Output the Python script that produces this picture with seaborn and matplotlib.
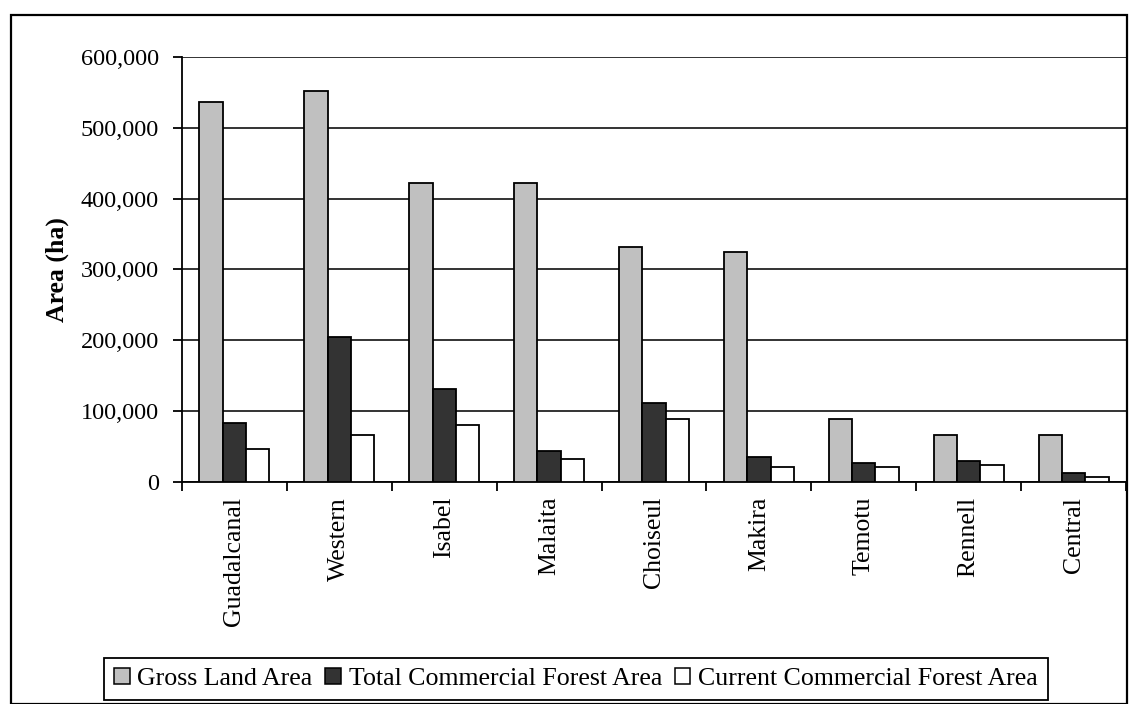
import numpy as np
import pandas as pd
import seaborn as sns
import matplotlib
matplotlib.use("Agg")
import matplotlib.pyplot as plt
from matplotlib.patches import Rectangle, Patch
from matplotlib.ticker import FuncFormatter, FixedLocator

# Province land and forest areas (hectares)
provinces = ["Guadalcanal", "Western", "Isabel", "Malaita", "Choiseul",
             "Makira", "Temotu", "Rennell", "Central"]
gross_land_area = [537000, 552000, 422000, 422000, 331000, 324000, 88500, 66000, 65500]
total_commercial_forest = [83000, 204000, 130500, 43500, 111000, 35000, 26500, 29500, 12000]
current_commercial_forest = [46500, 66000, 80500, 32000, 88500, 21000, 21000, 23500, 5800]

series_names = ["Gross Land Area", "Total Commercial Forest Area",
                "Current Commercial Forest Area"]
series_colors = ["#C0C0C0", "#333333", "#FFFFFF"]

df = pd.DataFrame({
    "Province": provinces * 3,
    "Series": np.repeat(series_names, len(provinces)),
    "Area": gross_land_area + total_commercial_forest + current_commercial_forest,
})

sns.set_theme(style="white")
plt.rcParams["font.family"] = ["Liberation Serif", "DejaVu Serif"]
plt.rcParams["text.color"] = "black"
plt.rcParams["axes.labelcolor"] = "black"
plt.rcParams["xtick.color"] = "black"
plt.rcParams["ytick.color"] = "black"

W, H = 1134, 704
fig = plt.figure(figsize=(W / 100, H / 100), dpi=100)
ax = fig.add_axes([182 / W, 1 - 481.5 / H, (1126 - 182) / W, (481.5 - 57.3) / H])

sns.barplot(data=df, x="Province", y="Area", hue="Series", order=provinces,
            hue_order=series_names, palette=dict(zip(series_names, series_colors)),
            width=2 / 3, saturation=1, edgecolor="black", linewidth=1.3,
            errorbar=None, legend=False, ax=ax, zorder=3)

ax.set_ylim(0, 600000)
ax.set_xlim(-0.5, len(provinces) - 0.5)
ax.set_yticks(np.arange(0, 600001, 100000))
ax.yaxis.set_major_formatter(FuncFormatter(lambda v, p: f"{int(v):,}"))
ax.yaxis.grid(True, color="#111111", linewidth=1.2, zorder=0)
ax.set_axisbelow(True)

# category labels at centres, tick marks at category boundaries
ax.xaxis.set_major_locator(FixedLocator(np.arange(-0.5, len(provinces), 1.0)))
ax.xaxis.set_minor_locator(FixedLocator(np.arange(len(provinces))))
ax.set_xticklabels([], minor=False)
ax.set_xticklabels(provinces, minor=True, rotation=90, fontsize=18.5, va="top", ha="center")
ax.tick_params(axis="x", which="major", direction="out", length=6.5, width=1.3,
               color="black", bottom=True)
ax.tick_params(axis="x", which="minor", length=0, pad=11, bottom=True)
ax.tick_params(axis="y", direction="out", length=6.5, width=1.3, color="black",
               left=True, labelsize=17.5, pad=10)

ax.set_xlabel("")
ax.set_ylabel("Area (ha)", fontsize=18.5, fontweight="bold", labelpad=8.5)

for side in ["top", "right"]:
    ax.spines[side].set_visible(False)
for side in ["left", "bottom"]:
    ax.spines[side].set_color("black")
    ax.spines[side].set_linewidth(1.3)

# outer chart frame
fig.patches.append(Rectangle((11 / W, 0.5 / H), 1116 / W, (703 - 14) / H,
                             transform=fig.transFigure, fill=False,
                             edgecolor="black", linewidth=1.6))

handles = [Patch(facecolor=c, edgecolor="black", linewidth=1.1, label=n)
           for n, c in zip(series_names, series_colors)]
leg = fig.legend(handles=handles, loc="center", bbox_to_anchor=(576 / W, 1 - 679 / H),
                 ncol=3, fontsize=18.6, frameon=True, fancybox=False,
                 edgecolor="black", framealpha=1, handlelength=0.6,
                 handleheight=0.6, handletextpad=0.3, columnspacing=0.5,
                 borderpad=0.38, borderaxespad=0)
leg.get_frame().set_linewidth(1.3)

fig.savefig("out.png", dpi=100)
